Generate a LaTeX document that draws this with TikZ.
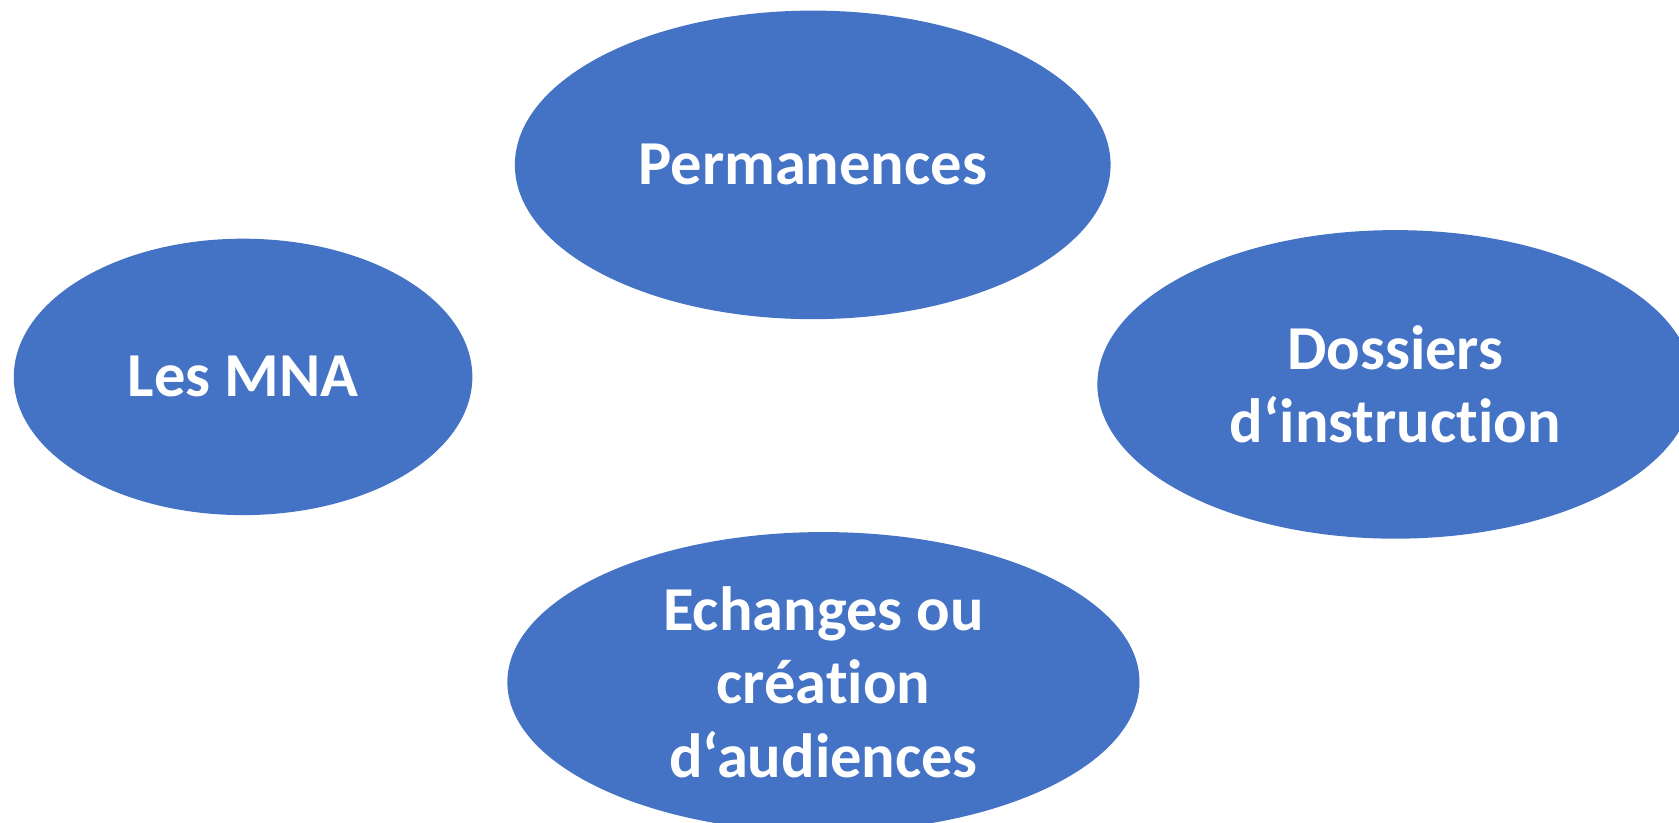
\documentclass[tikz,border=0pt]{standalone}
\usepackage{fontspec}
\setmainfont[Ligatures={NoCommon}]{Carlito}
\usetikzlibrary{shapes.geometric}
\definecolor{bulle}{HTML}{4472C4}
\begin{document}
\begin{tikzpicture}
					[x=0.01cm, y=-0.01cm,
					every node/.style={ellipse, fill=bulle, inner sep=0pt, align=center,
						text=white, font=\fontsize{16.6}{19.5}\selectfont\bfseries},
					grande/.style={minimum width=5.56cm, minimum height=2.88cm}]
					\clip (0,0) rectangle (1568,768);
					\fill[white] (0,0) rectangle (1568,768);
					\node[grande] (perm) at (759,154) {Permanences};
					\node[minimum width=4.28cm, minimum height=2.58cm] (mna) at (227,352) {Les MNA};
					\node[grande] (dossiers) at (1303,359) {Dossiers\\d‘instruction};
					\node[minimum width=5.90cm, minimum height=2.80cm] (echanges) at (769,637)
						{Echanges ou\\création\\d‘audiences};
				\end{tikzpicture}
\end{document}
